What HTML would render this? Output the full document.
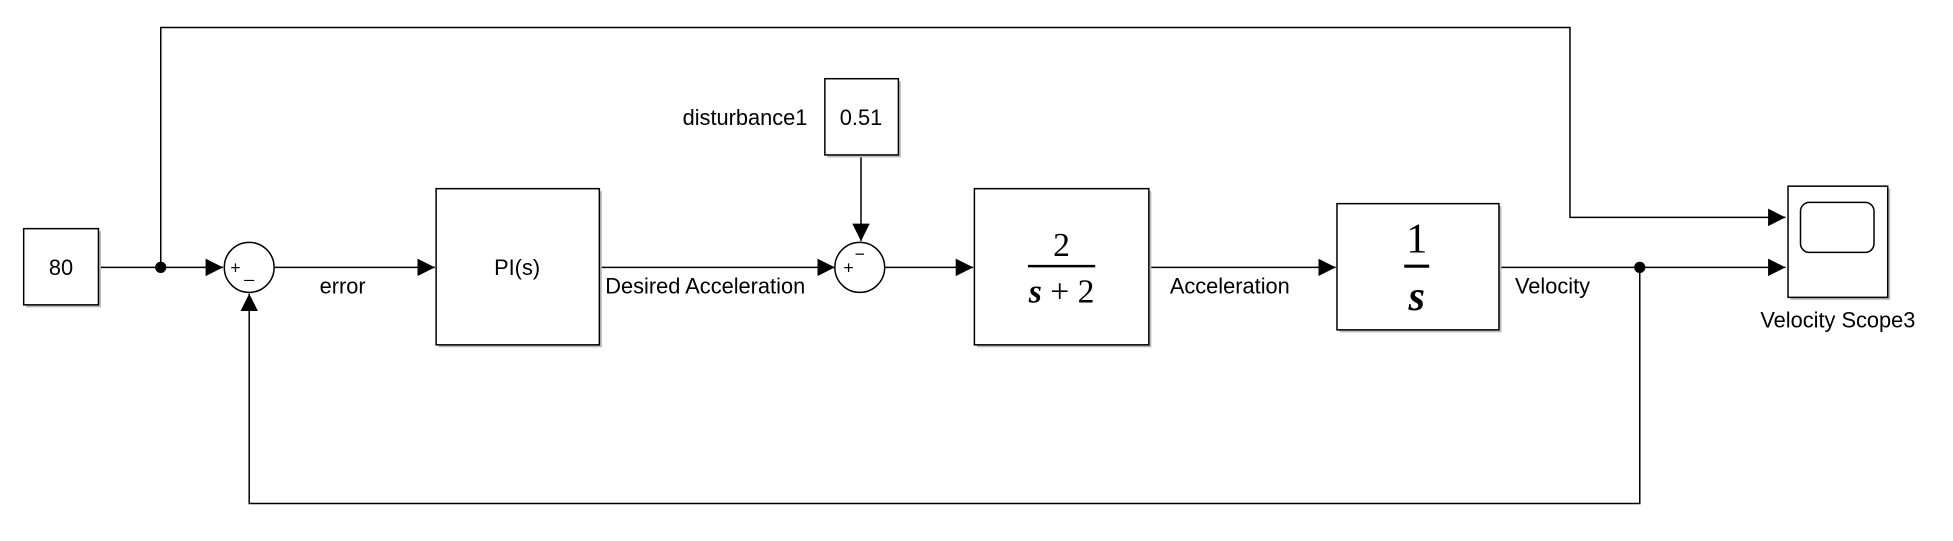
<!DOCTYPE html>
<html><head><meta charset="utf-8"><style>
html,body{margin:0;padding:0;background:#fff;}
svg{display:block;}
text{font-family:"Liberation Sans",Arial,sans-serif;fill:#000;}
</style></head><body>
<svg width="1953" height="541" viewBox="0 0 1563 433" preserveAspectRatio="none">
<defs>
<marker id="a" markerWidth="14" markerHeight="14" refX="14" refY="7" orient="auto" markerUnits="userSpaceOnUse">
<path d="M0,0 L14,7 L0,14 Z" fill="#000"/></marker>
</defs>
<g transform="scale(0.9972,1)">
<g stroke="#000" stroke-width="1.2" fill="none">
<polyline points="129,214 129,22 1260,22 1260,174 1433,174" marker-end="url(#a)"/>
<line x1="79" y1="214" x2="179" y2="214" marker-end="url(#a)"/>
<line x1="220" y1="214" x2="349" y2="214" marker-end="url(#a)"/>
<line x1="481" y1="214" x2="670" y2="214" marker-end="url(#a)"/>
<line x1="691" y1="124" x2="691" y2="193" marker-end="url(#a)"/>
<line x1="710" y1="214" x2="781" y2="214" marker-end="url(#a)"/>
<line x1="922" y1="214" x2="1072" y2="214" marker-end="url(#a)"/>
<line x1="1203" y1="214" x2="1433" y2="214" marker-end="url(#a)"/>
<polyline points="1316,214 1316,403 200,403 200,235" marker-end="url(#a)"/>
</g>
<circle cx="129" cy="214" r="4.5" fill="#000"/>
<circle cx="1316" cy="214" r="4.5" fill="#000"/>
<g fill="#bbb">
<rect x="21" y="185" width="60" height="61"/>
<rect x="352" y="153" width="131" height="125"/>
<rect x="664" y="65" width="59" height="61"/>
<rect x="784" y="153" width="140" height="125"/>
<rect x="1075" y="165" width="130" height="101"/>
<rect x="1437" y="151" width="80" height="89"/>
</g>
<g fill="#fff" stroke="#000" stroke-width="1.2">
<rect x="19" y="183" width="60" height="61"/>
<rect x="350" y="151" width="131" height="125"/>
<rect x="662" y="63" width="59" height="61"/>
<rect x="782" y="151" width="140" height="125"/>
<rect x="1073" y="163" width="130" height="101"/>
<rect x="1435" y="149" width="80" height="89"/>
<rect x="1445" y="162" width="59" height="40" rx="7"/>
<circle cx="200" cy="214" r="20"/>
<circle cx="690" cy="214" r="20"/>
</g>
<g font-size="17.5">
<text x="49" y="220" text-anchor="middle">80</text>
<text x="415" y="220" text-anchor="middle">PI(s)</text>
<text x="691" y="100" text-anchor="middle">0.51</text>
<text x="648" y="100" text-anchor="end">disturbance1</text>
<text x="275" y="235" text-anchor="middle">error</text>
<text x="566" y="235" text-anchor="middle">Desired Acceleration</text>
<text x="987" y="235" text-anchor="middle">Acceleration</text>
<text x="1246" y="235" text-anchor="middle">Velocity</text>
<text x="1475" y="262" text-anchor="middle">Velocity Scope3</text>
<text x="189" y="219" text-anchor="middle" font-size="14">+</text>
<text x="200" y="222" text-anchor="middle" font-size="14">_</text>
<text x="681" y="219" text-anchor="middle" font-size="14">+</text>
<text x="690" y="208" text-anchor="middle" font-size="14">−</text>
</g>
<text x="852" y="205" text-anchor="middle" font-size="27" style="font-family:'Liberation Serif',serif">2</text>
<line x1="825" y1="213" x2="879" y2="213" stroke="#000" stroke-width="2"/>
<text x="852" y="242" text-anchor="middle" font-size="27" style="font-family:'Liberation Serif',serif"><tspan font-style="italic" font-weight="bold">s</tspan> + 2</text>
<text x="1137" y="202" text-anchor="middle" font-size="34" style="font-family:'Liberation Serif',serif">1</text>
<line x1="1127" y1="213" x2="1147" y2="213" stroke="#000" stroke-width="2.5"/>
<text x="1137" y="248" text-anchor="middle" font-size="34" font-style="italic" font-weight="bold" style="font-family:'Liberation Serif',serif">s</text>
</g>
</svg>
</body></html>
